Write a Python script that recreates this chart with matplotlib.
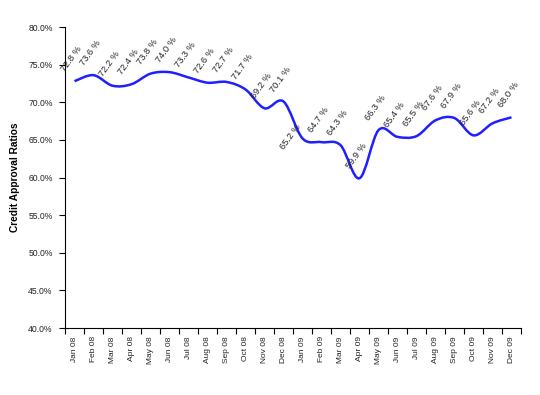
import matplotlib
matplotlib.use("Agg")
import matplotlib.pyplot as plt
from matplotlib.path import Path
from matplotlib.patches import PathPatch
import numpy as np

plt.rcParams['font.family'] = ['Liberation Sans', 'DejaVu Sans']

months = ["Jan 08", "Feb 08", "Mar 08", "Apr 08", "May 08", "Jun 08", "Jul 08", "Aug 08",
          "Sep 08", "Oct 08", "Nov 08", "Dec 08", "Jan 09", "Feb 09", "Mar 09", "Apr 09",
          "May 09", "Jun 09", "Jul 09", "Aug 09", "Sep 09", "Oct 09", "Nov 09", "Dec 09"]
ratios = [72.8, 73.6, 72.2, 72.4, 73.8, 74.0, 73.3, 72.6, 72.7, 71.7, 69.2, 70.1,
          65.2, 64.7, 64.3, 59.9, 66.3, 65.4, 65.5, 67.6, 67.9, 65.6, 67.2, 68.0]
yticks = [40, 45, 50, 55, 60, 65, 70, 75, 80]

fig = plt.figure(figsize=(5.4, 3.95), dpi=100)
ax = fig.add_axes([0.1204, 0.1696, 0.8444, 0.762])

x = np.arange(len(ratios), dtype=float)
y = np.array(ratios, dtype=float)

# Smoothed line (Bezier through the data points, Excel style)
verts = [(x[0], y[0])]
codes = [Path.MOVETO]
n = len(x)
for i in range(n - 1):
    p0 = np.array([x[max(i - 1, 0)], y[max(i - 1, 0)]])
    p1 = np.array([x[i], y[i]])
    p2 = np.array([x[i + 1], y[i + 1]])
    p3 = np.array([x[min(i + 2, n - 1)], y[min(i + 2, n - 1)]])
    c1 = p1 + (p2 - p0) / 6.0
    c2 = p2 - (p3 - p1) / 6.0
    verts += [tuple(c1), tuple(c2), tuple(p2)]
    codes += [Path.CURVE4] * 3
path = Path(verts, codes)
ax.add_patch(PathPatch(path, facecolor="none", edgecolor="#1f1fff", lw=1.8))

for i, (xi, yi) in enumerate(zip(x, y)):
    if months[i] == "Jan 09":
        dx, dy = -8.5, 1
    else:
        dx, dy = -2, 16
    ax.annotate(f"{yi:.1f} %", (xi, yi), xytext=(dx, dy), textcoords="offset points",
                rotation=54, ha="center", va="center", fontsize=6.7, color="#222222",
                rotation_mode="anchor")

ax.set_xlim(-0.5, len(ratios) - 0.5)
ax.set_ylim(40, 80)
ax.set_yticks(yticks)
ax.set_yticklabels([f"{v:.1f}%" for v in yticks], fontsize=6.2, color="#222222")
ax.set_xticks(np.arange(-0.5, len(ratios), 1.0))
ax.set_xticklabels([])
ax.set_xticks(x, minor=True)
ax.set_xticklabels(months, minor=True, rotation=90, fontsize=6.0, color="#222222")
ax.tick_params(axis="x", which="minor", length=0, pad=6)
ax.tick_params(axis="x", which="major", length=4, direction="out")
ax.tick_params(axis="y", length=4, direction="out", pad=5)
for s in ["top", "right"]:
    ax.spines[s].set_visible(False)
ax.set_ylabel("Credit Approval Ratios", fontsize=7.3, fontweight="bold")
ax.yaxis.set_label_coords(-0.099, 0.5)

fig.savefig("out.png", dpi=100)
